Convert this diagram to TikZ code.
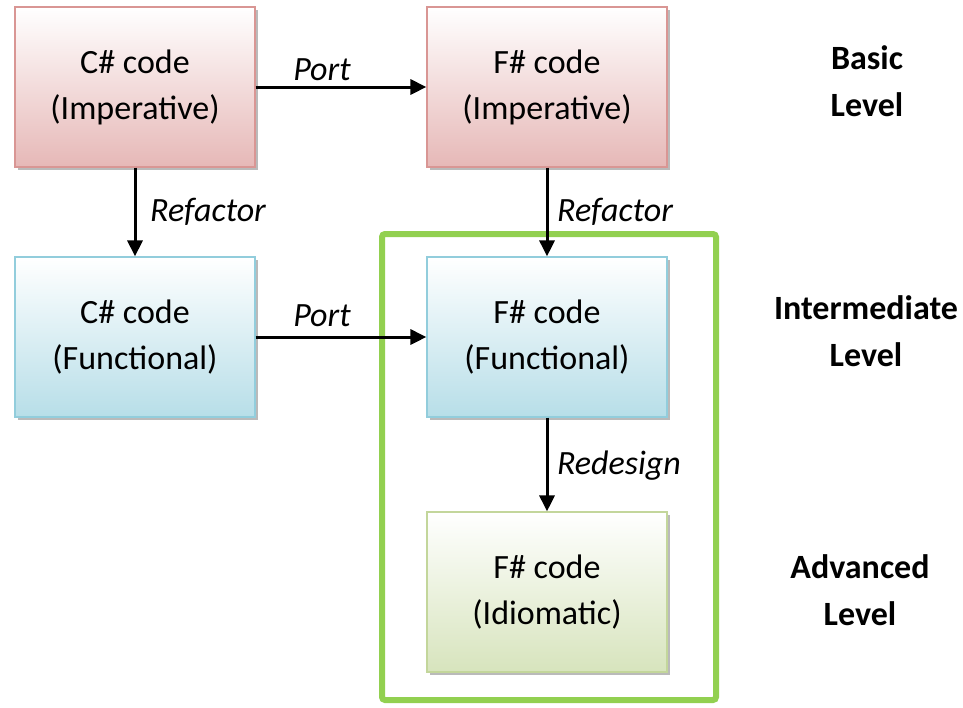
\documentclass[tikz,border=0pt]{standalone}
\usepackage{fontspec}
\setmainfont{Carlito}
\usetikzlibrary{arrows.meta,shadows}
\definecolor{redfill}{RGB}{230,184,183}
\definecolor{redline}{RGB}{217,150,148}
\definecolor{bluefill}{RGB}{183,222,232}
\definecolor{blueline}{RGB}{146,205,220}
\definecolor{greenfill}{RGB}{215,228,189}
\definecolor{greenline}{RGB}{195,214,155}
\definecolor{frame}{RGB}{146,208,80}
\tikzset{
  x=1pt,y=-1pt,
  codebox/.style={minimum width=240pt,minimum height=160pt,inner sep=0pt,align=center,
    font=\fontsize{34}{46}\selectfont, line width=1.2pt,
    drop shadow={shadow xshift=3pt,shadow yshift=-3pt,fill=black!45,opacity=0.6}},
  redbox/.style={codebox,draw=redline,top color=white,bottom color=redfill},
  bluebox/.style={codebox,draw=blueline,top color=white,bottom color=bluefill},
  greenbox/.style={codebox,draw=greenline,top color=white,bottom color=greenfill},
  conn/.style={line width=3pt,-{Triangle[length=16pt,width=15pt]}},
  lbl/.style={font=\fontsize{34}{40}\selectfont\itshape,inner sep=0pt},
  lvl/.style={font=\fontsize{34}{47}\selectfont\bfseries,align=center},
}
\begin{document}
\begin{tikzpicture}
\useasboundingbox (0,0) rectangle (963,707);
\fill[white] (0,0) rectangle (963,707);
\node[redbox] (ci) at (135,87) {C\# code\\(Imperative)};
\node[redbox] (fi) at (547,87) {F\# code\\(Imperative)};
\node[bluebox] (cf) at (135,337) {C\# code\\(Functional)};
\node[bluebox] (ff) at (547,337) {F\# code\\(Functional)};
\node[greenbox] (fid) at (547,592) {F\# code\\(Idiomatic)};
\draw[frame,line width=6pt,rounded corners=3pt] (382,234) rectangle (716,700);
\draw[conn] (ci) -- (fi);
\draw[conn] (cf) -- (ff);
\draw[conn] (ci) -- (cf);
\draw[conn] (fi) -- (ff);
\draw[conn] (ff) -- (fid);
\node[lbl] (p1) at (322,70) {Port};
\node[lbl] (p2) at (322,316) {Port};
\node[lbl] (r1) at (208,212) {Refactor};
\node[lbl] (r2) at (615,212) {Refactor};
\node[lbl] (r3) at (619,466) {Redesign};
\node[lvl] (l1) at (867,81) {Basic\\Level};
\node[lvl] (l2) at (866,331) {Intermediate\\Level};
\node[lvl] (l3) at (860,590) {Advanced\\Level};
\end{tikzpicture}
\end{document}
